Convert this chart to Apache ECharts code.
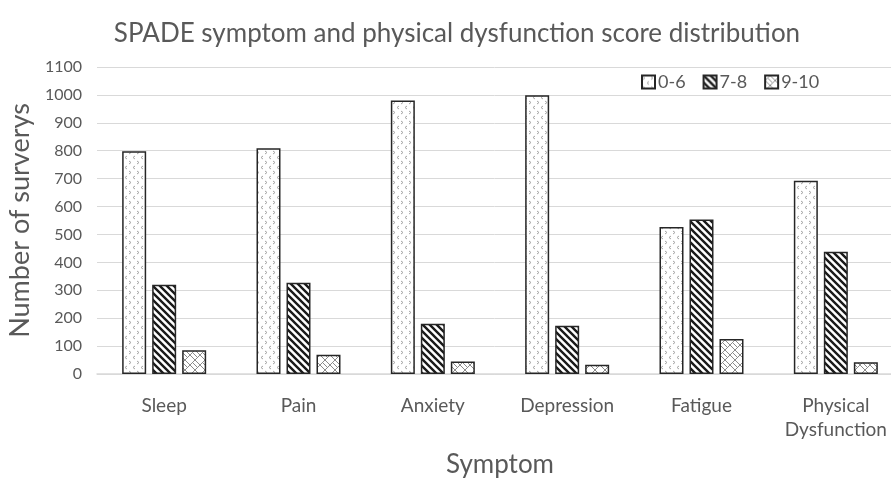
<!DOCTYPE html>
<html>
<head>
<meta charset="utf-8">
<script src="https://cdn.jsdelivr.net/npm/echarts@6/dist/echarts.min.js"></script>
<style>
  html, body { margin: 0; padding: 0; background: #fff; }
  #chart { width: 891px; height: 479px; }
</style>
</head>
<body>
<div id="chart"></div>
<script>
// data
var categories = ['Sleep', 'Pain', 'Anxiety', 'Depression', 'Fatigue', 'Physical\nDysfunction'];
var score06 = [798, 809, 980, 999, 527, 692];
var score78 = [320, 327, 180, 173, 554, 438];
var score910 = [85, 69, 45, 33, 125, 42];
var yTicks = [0, 1100, 100]; // min, max, interval

// hatch patterns like the office chart fills
function makeTile(w, h, draw) {
    var c = document.createElement('canvas');
    c.width = w; c.height = h;
    var ctx = c.getContext('2d');
    ctx.fillStyle = '#fff';
    ctx.fillRect(0, 0, w, h);
    draw(ctx);
    return { image: c, repeat: 'repeat' };
}

var chevronFill = makeTile(8, 10, function (ctx) {
    ctx.strokeStyle = '#a6a6a6';
    ctx.lineWidth = 1;
    ctx.beginPath();
    // '>' mark
    ctx.moveTo(1, 1); ctx.lineTo(3, 2.5); ctx.lineTo(1, 4);
    // '<' mark
    ctx.moveTo(7, 6); ctx.lineTo(5, 7.5); ctx.lineTo(7, 9);
    ctx.stroke();
});

var stripeFill = makeTile(7, 7, function (ctx) {
    ctx.strokeStyle = '#1a1a1a';
    ctx.lineWidth = 2.4;
    ctx.beginPath();
    ctx.moveTo(-1, -1); ctx.lineTo(8, 8);
    ctx.moveTo(-1, 6); ctx.lineTo(1, 8);
    ctx.moveTo(6, -1); ctx.lineTo(8, 1);
    ctx.stroke();
});

var weaveFill = makeTile(10, 10, function (ctx) {
    ctx.strokeStyle = '#8c8c8c';
    ctx.lineWidth = 1;
    ctx.beginPath();
    ctx.moveTo(0, 5); ctx.lineTo(5, 0); ctx.lineTo(10, 5);
    ctx.moveTo(0, 5); ctx.lineTo(5, 10); ctx.lineTo(10, 5);
    ctx.moveTo(2.5, 2.5); ctx.lineTo(7.5, 7.5);
    ctx.stroke();
});

var font = 'Lato, "Open Sans", sans-serif';
var grey = '#595959';

var myChart = echarts.init(document.getElementById('chart'));
myChart.setOption({
    animation: false,
    title: {
        text: 'SPADE symptom and physical dysfunction score distribution',
        left: 452,
        textAlign: 'center',
        top: 16,
        textStyle: { fontFamily: font, fontSize: 26, fontWeight: 'normal', color: grey }
    },
    legend: {
        left: 636,
        top: 68,
        itemWidth: 13,
        itemHeight: 13,
        itemGap: 17,
        icon: 'rect',
        textStyle: { fontFamily: font, fontSize: 18, color: grey, padding: [0, 0, 0, -2] },
        data: ['0-6', '7-8', '9-10']
    },
    grid: {
        left: 97,
        right: -12,
        top: 67,
        bottom: 105,
        containLabel: false,
        outerBoundsMode: 'none'
    },
    xAxis: {
        type: 'category',
        data: categories,
        name: 'Symptom',
        nameLocation: 'middle',
        nameGap: 78,
        nameTextStyle: { fontFamily: font, fontSize: 26, color: grey },
        axisLine: { lineStyle: { color: '#d9d9d9', width: 1.5 } },
        axisTick: { show: false },
        axisLabel: { fontFamily: font, fontSize: 19, color: grey, margin: 20, lineHeight: 24, interval: 0 }
    },
    yAxis: {
        type: 'value',
        min: yTicks[0],
        max: yTicks[1],
        interval: yTicks[2],
        name: 'Number of surverys',
        nameLocation: 'middle',
        nameGap: 63,
        nameTextStyle: { fontFamily: font, fontSize: 27, color: grey },
        axisLine: { show: false },
        axisTick: { show: false },
        axisLabel: {
            fontFamily: font, fontSize: 16, color: grey, margin: 15,
            formatter: function (v) { return String(v); }
        },
        splitLine: { lineStyle: { color: '#d9d9d9', width: 1 } }
    },
    series: [
        {
            name: '0-6',
            type: 'bar',
            barWidth: 24,
            barGap: '25%',
            itemStyle: { color: chevronFill, borderColor: '#262626', borderWidth: 1.5 },
            data: score06
        },
        {
            name: '7-8',
            type: 'bar',
            barWidth: 24,
            barGap: '25%',
            itemStyle: { color: stripeFill, borderColor: '#262626', borderWidth: 1.5 },
            data: score78
        },
        {
            name: '9-10',
            type: 'bar',
            barWidth: 24,
            barGap: '25%',
            itemStyle: { color: weaveFill, borderColor: '#262626', borderWidth: 1.5 },
            data: score910
        }
    ]
});
</script>
</body>
</html>
